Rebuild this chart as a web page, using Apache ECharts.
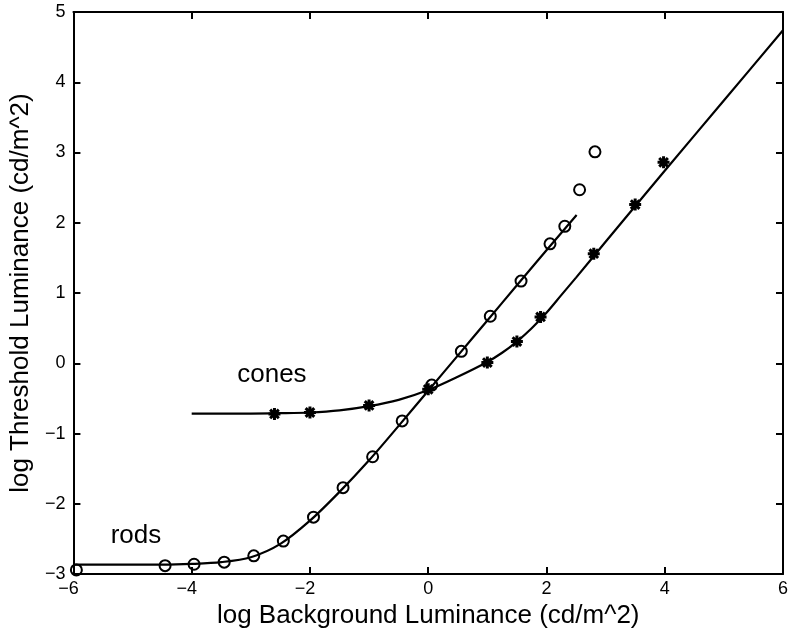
<!DOCTYPE html>
<html>
<head>
<meta charset="utf-8">
<script src="https://cdn.jsdelivr.net/npm/echarts@6/dist/echarts.min.js"></script>
<style>html,body{margin:0;padding:0;background:#fff}#c{width:791px;height:634px}</style>
</head>
<body>
<div id="c"></div>
<script>
// Data
var rodsX = [-5.95, -4.45, -3.96, -3.45, -2.95, -2.45, -1.94, -1.44, -0.94, -0.44, 0.06, 0.56, 1.05, 1.57, 2.06, 2.31, 2.56, 2.82];
var rodsY = [-2.94, -2.88, -2.86, -2.83, -2.74, -2.53, -2.19, -1.77, -1.33, -0.82, -0.31, 0.17, 0.67, 1.17, 1.70, 1.95, 2.47, 3.01];
var conesX = [-2.6, -2.0, -1.0, 0.0, 1.0, 1.5, 1.9, 2.8, 3.5, 3.98];
var conesY = [-0.72, -0.70, -0.60, -0.37, 0.01, 0.31, 0.66, 1.56, 2.26, 2.86];
var rodFitX = [-6, -4.5, -4, -3.5, -3, -2.5, -2, -1.5, -1, -0.5, 0, 0.5, 1, 1.5, 2, 2.51];
var rodFitY = [-2.865, -2.865, -2.855, -2.83, -2.76, -2.57, -2.24, -1.83, -1.38, -0.89, -0.39, 0.11, 0.61, 1.11, 1.61, 2.11];
var coneFitX = [-4, -3, -2.5, -2, -1.5, -1, -0.5, 0, 0.5, 1, 1.25, 1.5, 1.75, 2, 2.25, 2.5, 3, 4, 5, 6];
var coneFitY = [-0.715, -0.715, -0.71, -0.70, -0.67, -0.61, -0.52, -0.38, -0.19, 0.02, 0.15, 0.31, 0.50, 0.72, 0.97, 1.22, 1.73, 2.74, 3.74, 4.74];
var xTicks = [-6, -4, -2, 0, 2, 4, 6];
var yTicks = [-3, -2, -1, 0, 1, 2, 3, 4, 5];
var annotations = [[-5.37, -2.46, 'rods'], [-3.23, -0.16, 'cones']];

function zip(a, b) { return a.map(function (v, i) { return [v, b[i]]; }); }
function fmt(v) { return v < 0 ? '\u2212' + Math.abs(v) : String(v); }
function fmtX(v) { return v < 0 ? '{neg|\u2212' + Math.abs(v) + '}' : '{pos|' + v + '}'; }

var FONT = '"Liberation Sans", Arial, Helvetica, sans-serif';
var axisCommon = {
  axisLine: { show: true, onZero: false, lineStyle: { color: '#000', width: 2 } },
  axisTick: { show: true, inside: true, length: 7, lineStyle: { color: '#000', width: 2 } },
  splitLine: { show: false }
};
var star = 'path://M0,-5L0,5M-5,0L5,0M-3.6,-3.6L3.6,3.6M-3.6,3.6L3.6,-3.6';

var chart = echarts.init(document.getElementById('c'), null, { renderer: 'canvas' });
chart.setOption({
  animation: false,
  backgroundColor: '#fff',
  textStyle: { fontFamily: FONT },
  grid: { left: 69, right: 7, top: 12, bottom: 59 },
  xAxis: [
    Object.assign({}, axisCommon, {
      type: 'value', min: -6, max: 6, interval: 2, position: 'bottom',
      name: 'log Background Luminance (cd/m^2)', nameLocation: 'middle', nameGap: 20,
      nameTextStyle: { fontSize: 26, color: '#000', fontFamily: FONT },
      axisLabel: {
        color: '#000', fontSize: 18, margin: 6, fontFamily: FONT, formatter: fmtX,
        rich: {
          neg: { fontSize: 18, fontFamily: FONT, color: '#000', padding: [0, 10, 0, 0] },
          pos: { fontSize: 18, fontFamily: FONT, color: '#000' }
        }
      }
    }),
    Object.assign({}, axisCommon, {
      type: 'value', min: -6, max: 6, interval: 2, position: 'top',
      axisLabel: { show: false }
    })
  ],
  yAxis: [
    Object.assign({}, axisCommon, {
      type: 'value', min: -3, max: 5, interval: 1, position: 'left',
      name: 'log Threshold Luminance (cd/m^2)', nameLocation: 'middle', nameGap: 34,
      nameTextStyle: { fontSize: 26, color: '#000', fontFamily: FONT },
      axisLabel: { color: '#000', fontSize: 18, margin: 8, fontFamily: FONT, formatter: fmt }
    }),
    Object.assign({}, axisCommon, {
      type: 'value', min: -3, max: 5, interval: 1, position: 'right',
      axisLabel: { show: false }
    })
  ],
  series: [
    {
      name: 'rods fit', type: 'line', data: zip(rodFitX, rodFitY), smooth: 0.3,
      showSymbol: false, symbol: 'none',
      lineStyle: { color: '#000', width: 2.2 }, z: 2
    },
    {
      name: 'cones fit', type: 'line', data: zip(coneFitX, coneFitY), smooth: 0.3,
      showSymbol: false, symbol: 'none',
      lineStyle: { color: '#000', width: 2.2 }, z: 2
    },
    {
      name: 'rods', type: 'scatter', data: zip(rodsX, rodsY), symbol: 'circle', symbolSize: 11,
      itemStyle: { color: 'rgba(0,0,0,0)', borderColor: '#000', borderWidth: 2, opacity: 1 }, z: 3
    },
    {
      name: 'cones', type: 'scatter', data: zip(conesX, conesY), symbol: star, symbolSize: 12,
      itemStyle: { color: 'rgba(0,0,0,0)', borderColor: '#000', borderWidth: 3, opacity: 1 }, z: 3
    },
    {
      name: 'labels', type: 'scatter', data: annotations, symbolSize: 0, silent: true,
      itemStyle: { color: '#000', opacity: 1 },
      label: {
        show: true, position: 'right', distance: 0, color: '#000', fontSize: 26, fontFamily: FONT,
        opacity: 1,
        formatter: function (p) { return p.value[2]; }
      }
    }
  ]
});
</script>
</body>
</html>
